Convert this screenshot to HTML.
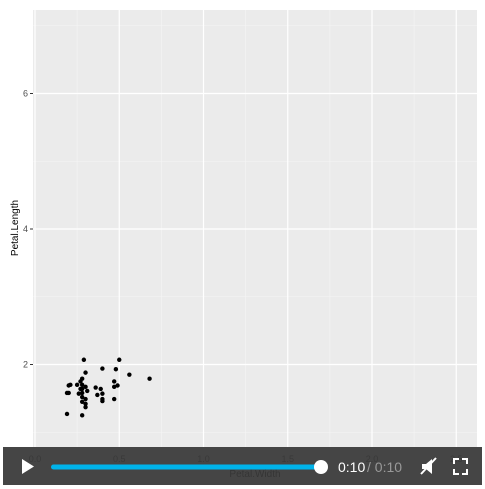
<!DOCTYPE html>
<html><head><meta charset="utf-8"><style>
body{margin:0;background:#fff;width:485px;height:489px;overflow:hidden;font-family:"Liberation Sans",sans-serif}
svg{position:absolute;left:0;top:0}
</style></head><body>
<svg width="485" height="489">
<g id="plot"></g>
<g>
<rect x="3" y="447" width="479" height="38" fill="rgba(55,55,55,0.93)"/>
<path d="M22,459 L34,466.5 L22,474 Z" fill="#fff"/>
<rect x="51" y="464.5" width="270" height="5" rx="2.5" fill="#00b3ea"/>
<circle cx="321" cy="467" r="7" fill="#fff"/>
<text x="338" y="472" font-size="14" fill="#fff">0:10</text>
<text x="367" y="472" font-size="14" fill="#999">/ 0:10</text>
<g><path d="M422,464 h4 l6,-5 v15 l-6,-5 h-4z" fill="#fff"/><line x1="421" y1="474" x2="436" y2="458" stroke="#fff" stroke-width="2"/></g>
<g stroke="#fff" stroke-width="2" fill="none"><path d="M454,464v-5h5M462,459h5v5M467,469v5h-5M459,474h-5v-5"/></g>
</g>
</svg>
<script>
const widths=[0.29,0.50,0.40,0.48,0.30,0.56,0.68,0.28,0.27,0.47,0.47,0.49,0.21,0.20,0.25,0.28,0.30,0.36,0.39,0.19,0.20,0.26,0.28,0.31,0.37,0.40,0.28,0.30,0.40,0.40,0.47,0.28,0.30,0.30,0.19,0.28,0.27,0.28];
const lengths=[2.07,2.07,1.94,1.93,1.88,1.85,1.79,1.79,1.75,1.75,1.67,1.69,1.70,1.69,1.70,1.70,1.67,1.66,1.64,1.58,1.58,1.57,1.58,1.61,1.55,1.57,1.52,1.49,1.49,1.46,1.49,1.45,1.42,1.37,1.27,1.25,1.64,1.64];
const xTicks=[0,0.5,1.0,1.5,2.0,2.5];
const yTicks=[2,4,6];
const NS="http://www.w3.org/2000/svg";
const X=v=>35+v*168.5, Y=v=>229-(v-4)*67.75;
const g=document.getElementById('plot');
function mk(t,a){const e=document.createElementNS(NS,t);for(const k in a)e.setAttribute(k,a[k]);g.appendChild(e);return e;}
const bg=mk('rect',{x:33,y:10,width:444,height:437,fill:'#ebebeb'});


for(let v=0.25;v<2.7;v+=0.5){const l=mk('line',{x1:X(v),x2:X(v),y1:10,y2:447,stroke:'#f5f5f5','stroke-width':0.6});

}
for(let v=1;v<7.5;v+=2){const l=mk('line',{x1:33,x2:477,y1:Y(v),y2:Y(v),stroke:'#f5f5f5','stroke-width':0.6});

}
xTicks.forEach(v=>{const l=mk('line',{x1:X(v),x2:X(v),y1:10,y2:447,stroke:'#fff','stroke-width':1.2});


const t=mk('text',{x:X(v),y:462,'font-size':9,fill:'#4d4d4d','text-anchor':'middle'});t.textContent=v.toFixed(1);

});
yTicks.forEach(v=>{const l=mk('line',{x1:33,x2:477,y1:Y(v),y2:Y(v),stroke:'#fff','stroke-width':1.2});


const k=mk('line',{x1:30,x2:33,y1:Y(v),y2:Y(v),stroke:'#333'});


const t=mk('text',{x:28,y:Y(v)+3,'font-size':9,fill:'#4d4d4d','text-anchor':'end'});t.textContent=v;

});
widths.forEach((w,i)=>{const c=mk('circle',{cx:X(w),cy:Y(lengths[i]),r:2.2,fill:'#000'});

});
const xt=mk('text',{x:255,y:477,'font-size':10,fill:'#222','text-anchor':'middle'});xt.textContent='Petal.Width';


const yt=mk('text',{x:0,y:0,'font-size':10,fill:'#000','text-anchor':'middle',transform:'translate(18,228) rotate(-90)'});yt.textContent='Petal.Length';


</script>
</body></html>
